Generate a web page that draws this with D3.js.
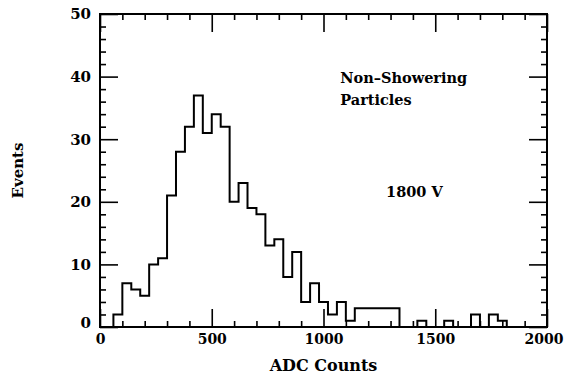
<!DOCTYPE html>
<html>
<head>
<meta charset="utf-8">
<script src="https://cdn.jsdelivr.net/npm/d3@7"></script>
<style>
  html, body { margin: 0; padding: 0; background: #fff; }
  svg { display: block; }
  text { font-family: "DejaVu Serif", serif; font-weight: bold; fill: #000; }
</style>
</head>
<body>
<svg id="chart" width="565" height="378"></svg>
<script>
// ---- data ----
const binLeft = [60,100,140,180,220,260,300,340,380,420,460,500,540,580,620,660,700,740,780,820,860,900,940,980,1020,1060,1100,1140,1180,1220,1260,1300,1340,1380,1420,1460,1500,1540,1580,1620,1660,1700,1740,1780];
const counts  = [2,7,6,5,10,11,21,28,32,37,31,34,32,20,23,19,18,13,14,8,12,4,7,4,2,4,1,3,3,3,3,3,0,0,1,0,0,1,0,0,2,0,2,1];
const binWidth = 40;
const xMajorTicks = [0,500,1000,1500,2000];
const yMajorTicks = [0,10,20,30,40,50];
const xTitle = "ADC Counts";
const yTitle = "Events";
const notes = [
  {text: "Non\u2013Showering", x: 1075, y: 39},
  {text: "Particles", x: 1075, y: 35.4},
  {text: "1800 V", x: 1280, y: 20.8}
];

// ---- layout ----
const W = 565, H = 378;
const m = {left: 100, right: 18, top: 14, bottom: 51};
const svg = d3.select("#chart");
const x = d3.scaleLinear().domain([0, 2000]).range([m.left, W - m.right]);
const y = d3.scaleLinear().domain([0, 50]).range([H - m.bottom, m.top]);

const majorLen = 18, minorLen = 6;
const xMinor = d3.range(0, 2001, 100).filter(v => v % 500 !== 0);
const yMinor = d3.range(0, 51, 2).filter(v => v % 10 !== 0);

function styleAxis(g) {
  g.select(".domain").remove();
  g.selectAll("line").attr("stroke", "#000").attr("stroke-width", 1.6);
  g.selectAll("text").style("font-size", "14px").style("font-family", "'DejaVu Serif', serif").style("font-weight", "bold");
}

// bottom
const gb = svg.append("g").attr("transform", `translate(0,${y(0)})`)
  .call(d3.axisBottom(x).tickValues(xMajorTicks).tickSize(-majorLen).tickPadding(7).tickFormat(d3.format("d")))
  .call(styleAxis);
gb.selectAll(".tick text").filter(d => d === 2000).attr("text-anchor", "end").attr("x", W - 2 - x(2000));
svg.append("g").attr("transform", `translate(0,${y(0)})`)
  .call(d3.axisBottom(x).tickValues(xMinor).tickSize(-minorLen).tickFormat(""))
  .call(styleAxis);
// top
svg.append("g").attr("transform", `translate(0,${y(50)})`)
  .call(d3.axisTop(x).tickValues(xMajorTicks).tickSize(-majorLen).tickFormat(""))
  .call(styleAxis);
svg.append("g").attr("transform", `translate(0,${y(50)})`)
  .call(d3.axisTop(x).tickValues(xMinor).tickSize(-minorLen).tickFormat(""))
  .call(styleAxis);
// left
const gl = svg.append("g").attr("transform", `translate(${x(0)},0)`)
  .call(d3.axisLeft(y).tickValues(yMajorTicks).tickSize(-majorLen).tickPadding(9).tickFormat(d3.format("d")))
  .call(styleAxis);
gl.selectAll(".tick text").style("font-size", "15px");
gl.selectAll(".tick text").filter(d => d === 0).attr("dy", "-0.0em");
svg.append("g").attr("transform", `translate(${x(0)},0)`)
  .call(d3.axisLeft(y).tickValues(yMinor).tickSize(-minorLen).tickFormat(""))
  .call(styleAxis);
// right
svg.append("g").attr("transform", `translate(${x(2000)},0)`)
  .call(d3.axisRight(y).tickValues(yMajorTicks).tickSize(-majorLen).tickFormat(""))
  .call(styleAxis);
svg.append("g").attr("transform", `translate(${x(2000)},0)`)
  .call(d3.axisRight(y).tickValues(yMinor).tickSize(-minorLen).tickFormat(""))
  .call(styleAxis);

// frame
svg.append("rect")
  .attr("x", x(0)).attr("y", y(50))
  .attr("width", x(2000) - x(0)).attr("height", y(0) - y(50))
  .attr("fill", "none").attr("stroke", "#000").attr("stroke-width", 2);

// histogram
const pts = [[binLeft[0], 0]].concat(binLeft.map((b, i) => [b, counts[i]]))
  .concat([[binLeft[binLeft.length - 1] + binWidth, 0]]);
const line = d3.line().x(d => x(d[0])).y(d => y(d[1])).curve(d3.curveStepAfter);
svg.append("path").attr("d", line(pts))
  .attr("fill", "none").attr("stroke", "#000").attr("stroke-width", 2)
  .attr("stroke-linejoin", "miter");

// titles
svg.append("text").attr("x", (x(0) + x(2000)) / 2).attr("y", 371)
  .attr("text-anchor", "middle").style("font-size", "16px").text(xTitle);
svg.append("text").attr("transform", `translate(23,${(y(0) + y(50)) / 2}) rotate(-90)`)
  .attr("text-anchor", "middle").style("font-size", "15px").text(yTitle);

// annotations
svg.selectAll("text.note").data(notes).enter().append("text")
  .attr("class", "note")
  .attr("x", d => x(d.x)).attr("y", d => y(d.y))
  .style("font-size", "14.5px").text(d => d.text);
</script>
</body>
</html>
